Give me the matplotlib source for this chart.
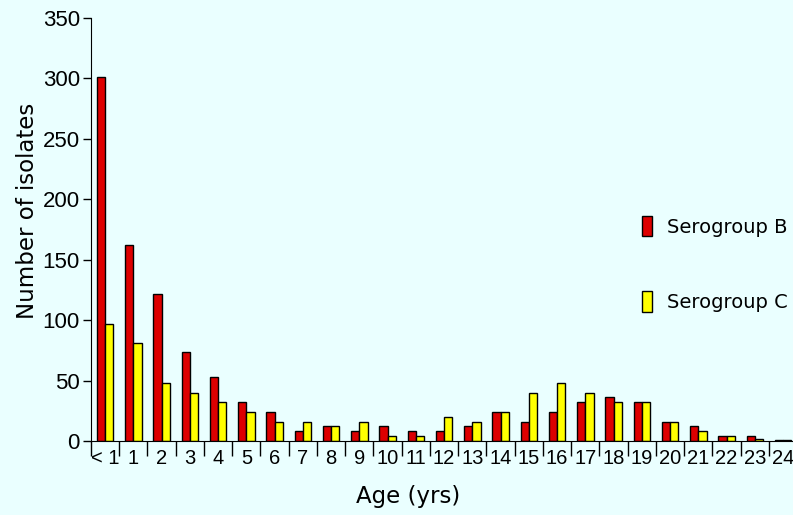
import matplotlib
matplotlib.use('Agg')
import matplotlib.pyplot as plt
from matplotlib.patches import Patch
import numpy as np

plt.rcParams['font.family'] = ['Liberation Sans', 'DejaVu Sans']

ages = ['< 1', '1', '2', '3', '4', '5', '6', '7', '8', '9', '10', '11', '12',
        '13', '14', '15', '16', '17', '18', '19', '20', '21', '22', '23', '24']
sero_b = [301, 162, 122, 74, 53, 32, 24, 8, 12, 8, 12, 8, 8, 12, 24, 16,
          24, 32, 36, 32, 16, 12, 4, 4, 1]
sero_c = [97, 81, 48, 40, 32, 24, 16, 16, 12, 16, 4, 4, 20, 16, 24, 40,
          48, 40, 32, 32, 16, 8, 4, 2, 1]

bg = '#eaffff'
red = '#dd0000'
yellow = '#ffff00'

fig = plt.figure(figsize=(7.93, 5.15), dpi=100, facecolor=bg)
ax = fig.add_axes([91 / 793, 74 / 515, 702 / 793, 423 / 515], facecolor=bg)

x = np.arange(len(ages))
w = 0.29
ax.bar(x - w, sero_b, w, align='edge', color=red, edgecolor='black', linewidth=1)
ax.bar(x, sero_c, w, align='edge', color=yellow, edgecolor='black', linewidth=1)

ax.set_xlim(-0.5, 24.35)
ax.set_ylim(0, 350)
ax.spines['top'].set_visible(False)
ax.spines['right'].set_visible(False)

ax.set_xticks(x)
ax.set_xticklabels(ages, fontsize=14.5)
ax.set_xticks(np.arange(-0.5, 24.5, 1), minor=True)
ax.tick_params(axis='x', which='major', length=0, pad=6)
ax.tick_params(axis='x', which='minor', length=11, width=1)

ax.set_yticks(np.arange(0, 351, 50))
ax.tick_params(axis='y', length=6, width=1, pad=2, labelsize=16)

fig.text(408 / 793, 0.035, 'Age (yrs)', ha='center', va='center',
         fontsize=16.5, family='DejaVu Sans')
fig.text(27 / 793, 0.59, 'Number of isolates', ha='center', va='center',
         rotation=90, fontsize=16.5, family='DejaVu Sans')

handles = [Patch(facecolor=red, edgecolor='black'),
           Patch(facecolor=yellow, edgecolor='black')]
fig.legend(handles, ['Serogroup B', 'Serogroup C'], loc='upper left',
           bbox_to_anchor=(632 / 793, 1 - 206 / 515), frameon=False,
           prop={'family': 'DejaVu Sans', 'size': 14},
           handlelength=0.52, handleheight=1.25,
           handletextpad=0.8, labelspacing=2.8, borderpad=0)

fig.savefig('out.png', dpi=100, facecolor=bg)
